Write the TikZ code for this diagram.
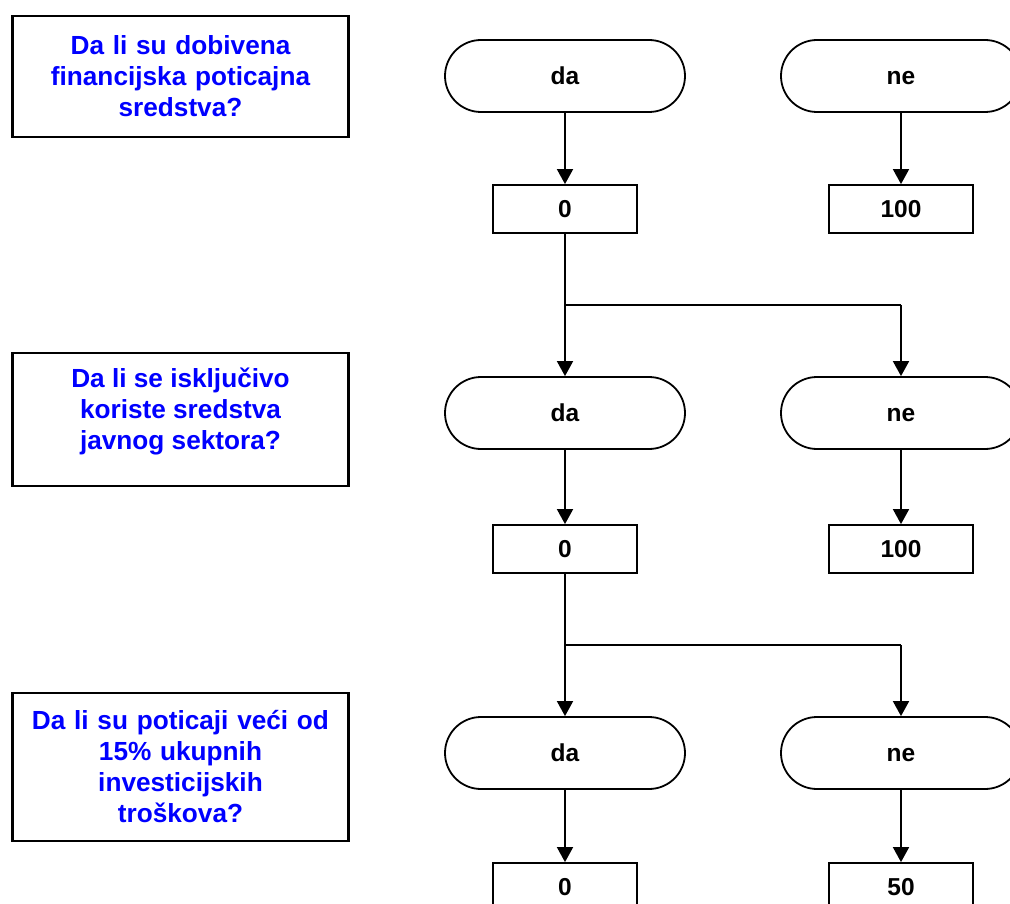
\documentclass[tikz,border=0pt]{standalone}
\usepackage{fontspec}
\setmainfont{Liberation Sans}
\usetikzlibrary{arrows.meta,shapes.misc}
\definecolor{qblue}{RGB}{0,0,255}
\begin{document}
\begin{tikzpicture}[x=1pt,y=-1pt,
  qfont/.style={font=\fontsize{26.2}{31}\selectfont\bfseries,text=qblue},
  question/.style={draw=black,line width=2.6pt,inner sep=0pt,
    minimum width=336pt,text width=326pt,align=center,qfont},
  terminal/.style={draw=black,line width=1.8pt,rounded rectangle,
    minimum width=240pt,minimum height=72pt,inner sep=0pt,
    text height=17.5pt,text depth=0pt,
    font=\fontsize{24.5}{28}\selectfont\bfseries},
  valuebox/.style={draw=black,line width=1.8pt,rectangle,
    minimum width=144pt,minimum height=48pt,inner sep=0pt,
    text height=17.5pt,text depth=0pt,
    font=\fontsize{24.5}{28}\selectfont\bfseries},
  flow/.style={line width=1.8pt,-{Triangle[length=15pt,width=16pt]}},
  link/.style={line width=1.8pt}]
\useasboundingbox (0,0) rectangle (1010,904);
\clip (0,0) rectangle (1010,904);
\fill[white] (0,0) rectangle (1010,904);

% question column
\node[question,minimum height=121pt] (q1) at (180.5,76.5)
  {Da li su dobivena\\financijska poticajna\\sredstva?};
\node[question,minimum height=133pt] (q2) at (180.5,419.5) {};
\node[qfont,align=center] (q2t) at (180.5,411)
  {Da li se isključivo\\koriste sredstva\\javnog sektora?};
\node[question,minimum height=148pt] (q3) at (180.5,767)
  {Da li su poticaji veći od\\15\% ukupnih\\investicijskih\\troškova?};

% first decision
\node[terminal] (da1) at (565,76) {da};
\node[terminal] (ne1) at (901,76) {ne};
\node[valuebox] (v1a) at (565,209) {0};
\node[valuebox] (v1b) at (901,209) {100};

% second decision
\node[terminal] (da2) at (565,413) {da};
\node[terminal] (ne2) at (901,413) {ne};
\node[valuebox] (v2a) at (565,549) {0};
\node[valuebox] (v2b) at (901,549) {100};

% third decision
\node[terminal] (da3) at (565,753) {da};
\node[terminal] (ne3) at (901,753) {ne};
\node[valuebox] (v3a) at (565,887) {0};
\node[valuebox] (v3b) at (901,887) {50};

% branch points
\coordinate (s1) at (565,305);
\coordinate (s2) at (565,645);

% connectors
\draw[flow] (da1) -- (v1a);
\draw[flow] (ne1) -- (v1b);
\draw[flow] (v1a) -- (da2);
\draw[link] (s1) -- (s1 -| ne2.north);
\draw[flow] (s1 -| ne2.north) -- (ne2);

\draw[flow] (da2) -- (v2a);
\draw[flow] (ne2) -- (v2b);
\draw[flow] (v2a) -- (da3);
\draw[link] (s2) -- (s2 -| ne3.north);
\draw[flow] (s2 -| ne3.north) -- (ne3);

\draw[flow] (da3) -- (v3a);
\draw[flow] (ne3) -- (v3b);
\end{tikzpicture}
\end{document}
